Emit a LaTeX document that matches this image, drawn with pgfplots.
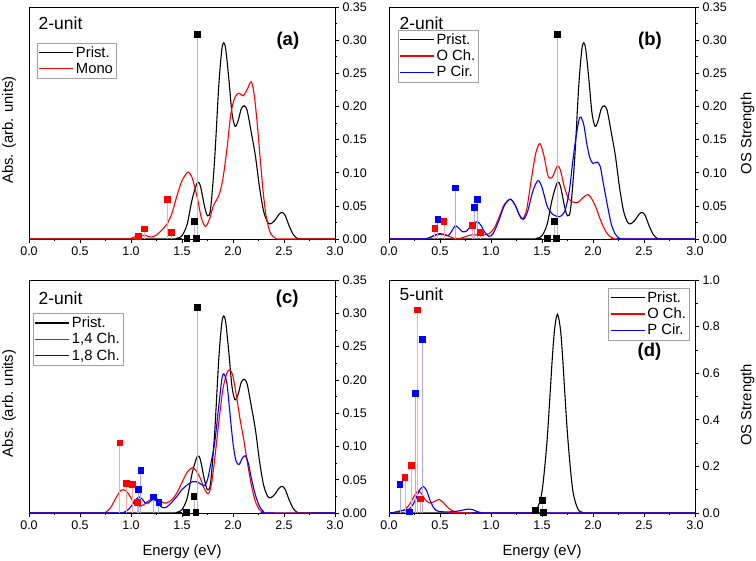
\documentclass[border=0pt]{standalone}
\usepackage{fontspec}
\setmainfont{Liberation Sans}
\usepackage{pgfplots}
\pgfplotsset{compat=1.18}
\definecolor{stkk}{HTML}{BBBBBB}
\definecolor{stkr}{HTML}{FFAAAA}
\definecolor{stkb}{HTML}{AAAAFF}
\definecolor{lgd}{HTML}{A0A0A0}
\pgfplotsset{
  panel/.style={
    scale only axis, width=306pt, height=232pt,
    xmin=0, xmax=3, ymin=0, clip=false,
    axis line style={line width=0.8pt},
    tick align=outside,
    xtick={0,0.5,1,1.5,2,2.5,3},
    minor x tick num=1, minor y tick num=1,
    xtick pos=bottom, ytick pos=right, yticklabel pos=right,
    major tick length=4pt, minor tick length=2.5pt,
    every tick/.style={line width=0.6pt, black},
    ticklabel style={font=\fontsize{12.5}{14}\selectfont},
    /pgf/number format/assume math mode=true,
    xticklabel style={/pgf/number format/.cd, fixed, fixed zerofill, precision=1},
    yticklabel style={/pgf/number format/.cd, fixed, fixed zerofill, precision=2},
    legend style={draw=lgd, line width=0.6pt, font=\fontsize{14.8}{16}\selectfont,
      inner sep=1.5pt, row sep=0pt, cells={anchor=west}},
    legend image code/.code={\draw[#1] (0pt,0pt) -- (34pt,0pt);},
  },
  curve/.style={line width=1.1pt, smooth, tension=0.5, mark=none, forget plot},
  stk/.style={ycomb, line width=1pt, draw=#1, mark=square*, mark size=2.9pt, forget plot},
  lk/.style={black, line width=1.2pt},
  lr/.style={red, line width=1.2pt},
  lb/.style={blue, line width=1.2pt},
}
\newcommand{\unitlab}[1]{{\fontsize{17.5}{19}\selectfont #1}}
\newcommand{\axlab}[1]{{\fontsize{14.8}{16}\selectfont #1}}
\newcommand{\panlab}[1]{{\fontsize{18.5}{20}\selectfont\bfseries #1}}
\begin{document}
\begin{tikzpicture}
\useasboundingbox (0,0) rectangle (756pt,561pt);
% ---------------- (a)
\begin{axis}[panel, at={(29pt,322pt)}, anchor=south west, ymax=0.35,
  ytick={0,0.05,0.1,0.15,0.2,0.25,0.3,0.35},
  legend style={at={(0.026,0.845)}, anchor=north west}]
\addlegendimage{lk}\addlegendentry{Prist.}
\addlegendimage{lr}\addlegendentry{Mono}
\addplot[curve, black] coordinates {
(0,0) (1.40,0) (1.45,0.001) (1.50,0.005) (1.55,0.022) (1.60,0.060) (1.65,0.085) (1.68,0.080)
(1.72,0.050) (1.75,0.035) (1.78,0.045) (1.82,0.120) (1.86,0.230) (1.89,0.285) (1.91,0.296)
(1.93,0.285) (1.96,0.240) (1.99,0.190) (2.02,0.170) (2.05,0.178) (2.08,0.196) (2.11,0.201)
(2.14,0.193) (2.18,0.160) (2.22,0.125) (2.26,0.078) (2.30,0.042) (2.34,0.025) (2.37,0.023)
(2.41,0.028) (2.45,0.037) (2.48,0.040) (2.51,0.036) (2.55,0.020) (2.59,0.007) (2.63,0.001)
(2.68,0) (3,0)};
\addplot[curve, red] coordinates {
(0,0) (0.95,0) (1.00,0.001) (1.05,0.004) (1.10,0.005) (1.15,0.005) (1.20,0.003) (1.25,0.006)
(1.30,0.013) (1.35,0.022) (1.40,0.038) (1.45,0.065) (1.50,0.088) (1.56,0.101) (1.60,0.092)
(1.65,0.062) (1.69,0.032) (1.73,0.019) (1.77,0.030) (1.81,0.051) (1.86,0.065) (1.90,0.090)
(1.94,0.135) (1.98,0.190) (2.02,0.214) (2.06,0.220) (2.10,0.216) (2.14,0.226) (2.18,0.237)
(2.21,0.215) (2.24,0.170) (2.27,0.115) (2.30,0.065) (2.33,0.030) (2.37,0.008) (2.42,0.001)
(2.47,0) (3,0)};
\addplot[stk=stkk, mark options={fill=black, draw=black}] coordinates {(1.55,0.001) (1.62,0.026) (1.64,0.0005) (1.65,0.309)};
\addplot[stk=stkr, mark options={fill=red, draw=red}] coordinates {(1.07,0.004) (1.13,0.015) (1.36,0.059) (1.40,0.010)};
\node[anchor=base west] at (axis description cs:0.02,0.905) {\unitlab{2-unit}};
\node at (axis description cs:0.846,0.853) {\panlab{(a)}};
\node[rotate=90] at (axis description cs:-0.065,0.47) {\axlab{Abs. (arb. units)}};
\end{axis}
% ---------------- (b)
\begin{axis}[panel, at={(389pt,322pt)}, anchor=south west, ymax=0.35,
  ytick={0,0.05,0.1,0.15,0.2,0.25,0.3,0.35},
  legend style={at={(0.028,0.901)}, anchor=north west}]
\addlegendimage{lk}\addlegendentry{Prist.}
\addlegendimage{lr}\addlegendentry{O Ch.}
\addlegendimage{lb}\addlegendentry{P Cir.}
\addplot[curve, black] coordinates {
(0,0) (1.40,0) (1.45,0.001) (1.50,0.005) (1.55,0.022) (1.60,0.060) (1.65,0.085) (1.68,0.080)
(1.72,0.050) (1.75,0.035) (1.78,0.045) (1.82,0.120) (1.86,0.230) (1.89,0.285) (1.91,0.296)
(1.93,0.285) (1.96,0.240) (1.99,0.190) (2.02,0.170) (2.05,0.178) (2.08,0.196) (2.11,0.201)
(2.14,0.193) (2.18,0.160) (2.22,0.125) (2.26,0.078) (2.30,0.042) (2.34,0.025) (2.37,0.023)
(2.41,0.028) (2.45,0.037) (2.48,0.040) (2.51,0.036) (2.55,0.020) (2.59,0.007) (2.63,0.001)
(2.68,0) (3,0)};
\addplot[curve, red] coordinates {
(0,0) (0.30,0) (0.38,0.001) (0.44,0.005) (0.50,0.007) (0.56,0.006) (0.62,0.002) (0.67,0.000)
(0.74,0.003) (0.80,0.006) (0.86,0.006) (0.92,0.006) (0.98,0.008) (1.03,0.016) (1.08,0.033)
(1.13,0.052) (1.19,0.060) (1.24,0.050) (1.28,0.035) (1.31,0.030) (1.35,0.045) (1.40,0.095)
(1.44,0.130) (1.48,0.144) (1.52,0.125) (1.56,0.095) (1.60,0.093) (1.65,0.110) (1.68,0.104)
(1.72,0.078) (1.76,0.061) (1.80,0.056) (1.85,0.055) (1.90,0.062) (1.95,0.067) (1.99,0.060)
(2.03,0.047) (2.07,0.030) (2.11,0.016) (2.15,0.006) (2.20,0.001) (2.25,0) (3,0)};
\addplot[curve, blue] coordinates {
(0,0) (0.30,0) (0.38,0.001) (0.44,0.005) (0.49,0.008) (0.54,0.007) (0.58,0.005) (0.62,0.013)
(0.65,0.020) (0.68,0.017) (0.72,0.011) (0.76,0.012) (0.80,0.019) (0.86,0.026) (0.90,0.021)
(0.94,0.010) (0.98,0.004) (1.02,0.008) (1.07,0.025) (1.13,0.050) (1.19,0.060) (1.24,0.050)
(1.28,0.036) (1.32,0.030) (1.36,0.042) (1.41,0.072) (1.46,0.088) (1.50,0.078) (1.55,0.050)
(1.60,0.038) (1.65,0.034) (1.69,0.035) (1.73,0.045) (1.77,0.075) (1.80,0.115) (1.83,0.150)
(1.86,0.178) (1.88,0.184) (1.91,0.172) (1.94,0.143) (1.97,0.122) (2.00,0.114) (2.04,0.116)
(2.07,0.110) (2.10,0.085) (2.14,0.052) (2.18,0.022) (2.22,0.007) (2.26,0.001) (2.30,0) (3,0)};
\addplot[stk=stkk, mark options={fill=black, draw=black}] coordinates {(1.55,0.001) (1.62,0.026) (1.64,0.0005) (1.65,0.309)};
\addplot[stk=stkr, mark options={fill=red, draw=red}] coordinates {(0.45,0.016) (0.54,0.026) (0.82,0.020) (0.90,0.010)};
\addplot[stk=stkb, mark options={fill=blue, draw=blue}] coordinates {(0.48,0.029) (0.654,0.077) (0.837,0.047) (0.87,0.060)};
\node[anchor=base west] at (axis description cs:0.023,0.905) {\unitlab{2-unit}};
\node at (axis description cs:0.853,0.853) {\panlab{(b)}};
\node[rotate=90] at (axis description cs:1.172,0.455) {\axlab{OS Strength}};
\end{axis}
% ---------------- (c)
\begin{axis}[panel, at={(29pt,48pt)}, anchor=south west, height=233pt, ymax=0.35,
  ytick={0,0.05,0.1,0.15,0.2,0.25,0.3,0.35},
  legend style={at={(0.013,0.858)}, anchor=north west}]
\addlegendimage{lk}\addlegendentry{Prist.}
\addlegendimage{lr}\addlegendentry{1,4 Ch.}
\addlegendimage{lb}\addlegendentry{1,8 Ch.}
\addplot[curve, black] coordinates {
(0,0) (1.40,0) (1.45,0.001) (1.50,0.005) (1.55,0.022) (1.60,0.060) (1.65,0.085) (1.68,0.080)
(1.72,0.050) (1.75,0.035) (1.78,0.045) (1.82,0.120) (1.86,0.230) (1.89,0.285) (1.91,0.296)
(1.93,0.285) (1.96,0.240) (1.99,0.190) (2.02,0.170) (2.05,0.178) (2.08,0.196) (2.11,0.201)
(2.14,0.193) (2.18,0.160) (2.22,0.125) (2.26,0.078) (2.30,0.042) (2.34,0.025) (2.37,0.023)
(2.41,0.028) (2.45,0.037) (2.48,0.040) (2.51,0.036) (2.55,0.020) (2.59,0.007) (2.63,0.001)
(2.68,0) (3,0)};
\addplot[curve, red] coordinates {
(0,0) (0.70,0) (0.75,0.001) (0.80,0.008) (0.85,0.022) (0.90,0.034) (0.93,0.035) (0.97,0.030)
(1.01,0.020) (1.05,0.012) (1.09,0.010) (1.13,0.013) (1.18,0.019) (1.23,0.022) (1.27,0.020)
(1.31,0.016) (1.35,0.015) (1.40,0.020) (1.45,0.030) (1.50,0.046) (1.55,0.061) (1.60,0.068)
(1.64,0.063) (1.68,0.052) (1.72,0.036) (1.76,0.029) (1.79,0.045) (1.82,0.080) (1.86,0.135)
(1.90,0.185) (1.94,0.210) (1.97,0.215) (2.00,0.205) (2.04,0.170) (2.07,0.140) (2.10,0.115)
(2.14,0.077) (2.18,0.042) (2.22,0.017) (2.26,0.005) (2.30,0.001) (2.34,0) (3,0)};
\addplot[curve, blue] coordinates {
(0,0) (0.88,0) (0.93,0.001) (0.98,0.006) (1.02,0.014) (1.06,0.022) (1.08,0.024) (1.11,0.021)
(1.14,0.015) (1.17,0.015) (1.21,0.020) (1.24,0.019) (1.28,0.012) (1.31,0.008) (1.35,0.009)
(1.40,0.016) (1.45,0.025) (1.50,0.035) (1.55,0.042) (1.60,0.047) (1.64,0.047) (1.68,0.044)
(1.72,0.041) (1.75,0.050) (1.78,0.072) (1.82,0.105) (1.86,0.160) (1.89,0.200) (1.91,0.209)
(1.94,0.195) (1.97,0.150) (2.00,0.105) (2.03,0.078) (2.06,0.073) (2.09,0.082) (2.12,0.086)
(2.15,0.075) (2.18,0.052) (2.22,0.027) (2.26,0.010) (2.30,0.002) (2.34,0) (3,0)};
\addplot[stk=stkk, mark options={fill=black, draw=black}] coordinates {(1.545,0.001) (1.618,0.025) (1.637,0.0005) (1.65,0.309)};
\addplot[stk=stkr, mark options={fill=red, draw=red}] coordinates {(0.892,0.105) (0.958,0.044) (1.013,0.0425) (1.065,0.016)};
\addplot[stk=stkb, mark options={fill=blue, draw=blue}] coordinates {(1.072,0.035) (1.098,0.064) (1.219,0.024) (1.274,0.016)};
\node[anchor=base west] at (axis description cs:0.02,0.896) {\unitlab{2-unit}};
\node at (axis description cs:0.844,0.921) {\panlab{(c)}};
\node[rotate=90] at (axis description cs:-0.065,0.47) {\axlab{Abs. (arb. units)}};
\node at (axis description cs:0.5,-0.166) {\axlab{Energy (eV)}};
\end{axis}
% ---------------- (d)
\begin{axis}[panel, at={(389pt,48pt)}, anchor=south west, height=233pt, ymax=1.0,
  ytick={0,0.2,0.4,0.6,0.8,1.0},
  yticklabel style={/pgf/number format/.cd, fixed, fixed zerofill, precision=1},
  legend style={at={(0.983,0.966)}, anchor=north east}]
\addlegendimage{lk}\addlegendentry{Prist.}
\addlegendimage{lr}\addlegendentry{O Ch.}
\addlegendimage{lb}\addlegendentry{P Cir.}
\addplot[curve, black] coordinates {
(0,0) (1.35,0) (1.40,0.002) (1.45,0.017) (1.50,0.092) (1.55,0.313) (1.60,0.657) (1.625,0.795)
(1.652,0.853) (1.68,0.791) (1.70,0.683) (1.75,0.338) (1.80,0.103) (1.85,0.019) (1.90,0.002)
(1.95,0) (3,0)};
\addplot[curve, red] coordinates {
(0,0) (0.03,0.001) (0.08,0.004) (0.12,0.009) (0.16,0.016) (0.20,0.036) (0.22,0.050) (0.25,0.075)
(0.285,0.095) (0.32,0.082) (0.36,0.055) (0.40,0.043) (0.44,0.048) (0.49,0.058) (0.53,0.046)
(0.58,0.022) (0.63,0.008) (0.68,0.002) (0.73,0) (3,0)};
\addplot[curve, blue] coordinates {
(0,0) (0.04,0.002) (0.08,0.006) (0.12,0.010) (0.16,0.013) (0.20,0.017) (0.24,0.040) (0.27,0.068)
(0.30,0.098) (0.335,0.114) (0.37,0.095) (0.40,0.057) (0.43,0.028) (0.46,0.012) (0.50,0.006)
(0.55,0.005) (0.60,0.005) (0.65,0.007) (0.70,0.010) (0.75,0.015) (0.79,0.017) (0.83,0.013)
(0.87,0.005) (0.91,0.001) (0.95,0) (3,0)};
\addplot[stk=stkk, mark options={fill=black, draw=black}] coordinates {(1.44,0.010) (1.505,0.053) (1.515,0.003)};
\addplot[stk=stkr, mark options={fill=red, draw=red}] coordinates {(0.157,0.153) (0.222,0.203) (0.281,0.871) (0.312,0.060)};
\addplot[stk=stkb, mark options={fill=blue, draw=blue}] coordinates {(0.108,0.124) (0.203,0.004) (0.258,0.514) (0.327,0.746)};
\node[anchor=base west] at (axis description cs:0.023,0.914) {\unitlab{5-unit}};
\node at (axis description cs:0.851,0.692) {\panlab{(d)}};
\node[rotate=90] at (axis description cs:1.172,0.464) {\axlab{OS Strength}};
\node at (axis description cs:0.5,-0.166) {\axlab{Energy (eV)}};
\end{axis}
\end{tikzpicture}
\end{document}
